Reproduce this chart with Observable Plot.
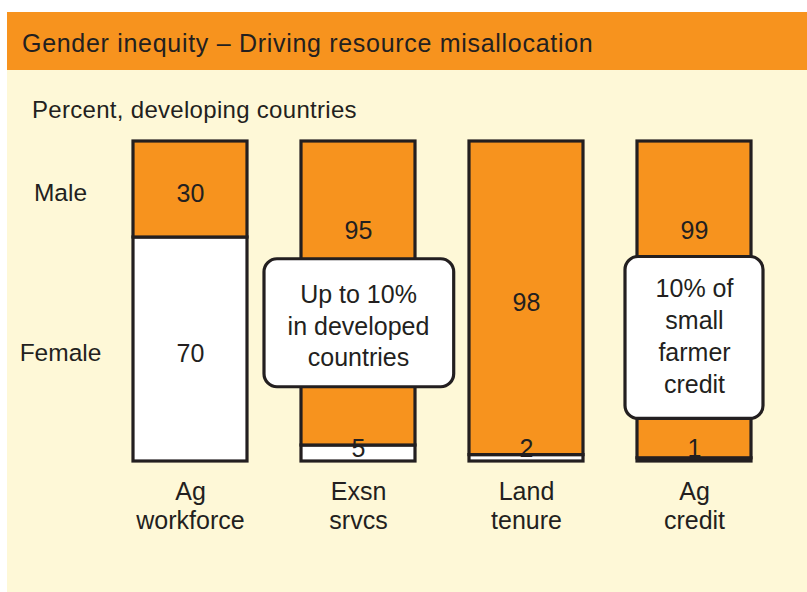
<!DOCTYPE html>
<html>
<head>
<meta charset="utf-8">
<script src="https://cdn.jsdelivr.net/npm/d3@7"></script>
<script src="https://cdn.jsdelivr.net/npm/@observablehq/plot@0.6"></script>
<style>
  html, body { margin: 0; padding: 0; background: #ffffff; }
  body { width: 807px; height: 592px; position: relative; overflow: hidden;
         font-family: "Liberation Sans", Arial, Helvetica, sans-serif; color: #231f20; }
  #panel { position: absolute; left: 7px; top: 12px; width: 800px; height: 580px; background: #fef8d7; }
  #header { position: absolute; left: 0; top: 0; width: 800px; height: 58px; background: #f7931e; }
  #title { position: absolute; left: 15px; top: 16px; font-size: 25px; letter-spacing: 0.7px; line-height: 30px; white-space: nowrap; }
  #subtitle { position: absolute; left: 25px; top: 84px; font-size: 24px; letter-spacing: 0.3px; line-height: 28px; white-space: nowrap; }
  #chart { position: absolute; left: 0; top: 58px; }
  #chart svg { display: block; }
</style>
</head>
<body>
<div id="panel">
  <div id="header"><div id="title">Gender inequity – Driving resource misallocation</div></div>
  <div id="subtitle">Percent, developing countries</div>
  <div id="chart"></div>
</div>
<script>
// ---- data ----
const categories = ["Ag workforce", "Exsn srvcs", "Land tenure", "Ag credit"];
const categoryLabels = ["Ag\nworkforce", "Exsn\nsrvcs", "Land\ntenure", "Ag\ncredit"];
const femaleShare = [70, 5, 2, 1];
const maleShare = [30, 95, 98, 99];
const sexes = ["Female", "Male"];
// where each value label sits (percent units)
const maleLabelAt = [83.75, 72, 49.4, 72];
const femaleLabelAt = [33.75, 4, 4, 4];
// callout notes (percent extents)
const calloutCats = ["Exsn srvcs", "Ag credit"];
const calloutTexts = ["Up to 10%\nin developed\ncountries", "10% of\nsmall\nfarmer\ncredit"];
const calloutLow = [23.2, 13.3];
const calloutHigh = [63.2, 63.9];

// ---- tables ----
const rows = [];
categories.forEach((c, i) => {
  rows.push({cat: c, sex: "Female", value: femaleShare[i], labelY: femaleLabelAt[i]});
});
categories.forEach((c, i) => {
  rows.push({cat: c, sex: "Male", value: maleShare[i], labelY: maleLabelAt[i]});
});
const callouts = calloutCats.map((c, i) => ({cat: c, text: calloutTexts[i], lo: calloutLow[i], hi: calloutHigh[i]}));
const rowLabels = sexes.map(s => {
  const f = femaleShare[0];
  return {sex: s, y: s === "Female" ? f / 2 : f + maleShare[0] / 2};
});

const ink = "#231f20";
const orange = "#f7931e";
const labelOf = new Map(categories.map((c, i) => [c, categoryLabels[i]]));

const chart = Plot.plot({
  width: 800,
  height: 522,
  marginTop: 71,
  marginBottom: 131,
  marginLeft: 71,
  marginRight: 1,
  style: {background: "transparent", fontFamily: "Liberation Sans, Arial, Helvetica, sans-serif", color: ink},
  x: {domain: categories, padding: 0.3226, label: null},
  y: {domain: [0, 100], axis: null},
  color: {domain: sexes, range: ["#ffffff", orange]},
  marks: [
    Plot.barY(rows, {x: "cat", y: "value", fill: "sex", stroke: ink, strokeWidth: 3.2}),
    Plot.text(rows, {x: "cat", y: "labelY", text: d => String(d.value), fontSize: 25, fill: ink}),
    Plot.barY([callouts[0]], {x: "cat", y1: "lo", y2: "hi", insetLeft: -37, insetRight: -38.7, rx: 13, fill: "#ffffff", stroke: ink, strokeWidth: 3.2}),
    Plot.barY([callouts[1]], {x: "cat", y1: "lo", y2: "hi", insetLeft: -12, insetRight: -12, rx: 13, fill: "#ffffff", stroke: ink, strokeWidth: 3.2}),
    Plot.text([callouts[0]], {x: "cat", y: d => (d.lo + d.hi) / 2, text: "text", dx: 0, dy: 1, fontSize: 25, lineHeight: 1.28, fill: ink}),
    Plot.text([callouts[1]], {x: "cat", y: d => (d.lo + d.hi) / 2, text: "text", dy: -3, fontSize: 25, lineHeight: 1.28, fill: ink}),
    Plot.text(rowLabels, {y: "y", text: "sex", frameAnchor: "left", dx: -18, dy: 4, textAnchor: "middle", fontSize: 24.5, fill: ink}),
    Plot.axisX({tickSize: 0, tickPadding: 17.5, fontSize: 25, lineHeight: 1.16, tickFormat: c => labelOf.get(c), fill: ink, label: null})
  ]
});
document.getElementById("chart").appendChild(chart);
</script>
</body>
</html>
